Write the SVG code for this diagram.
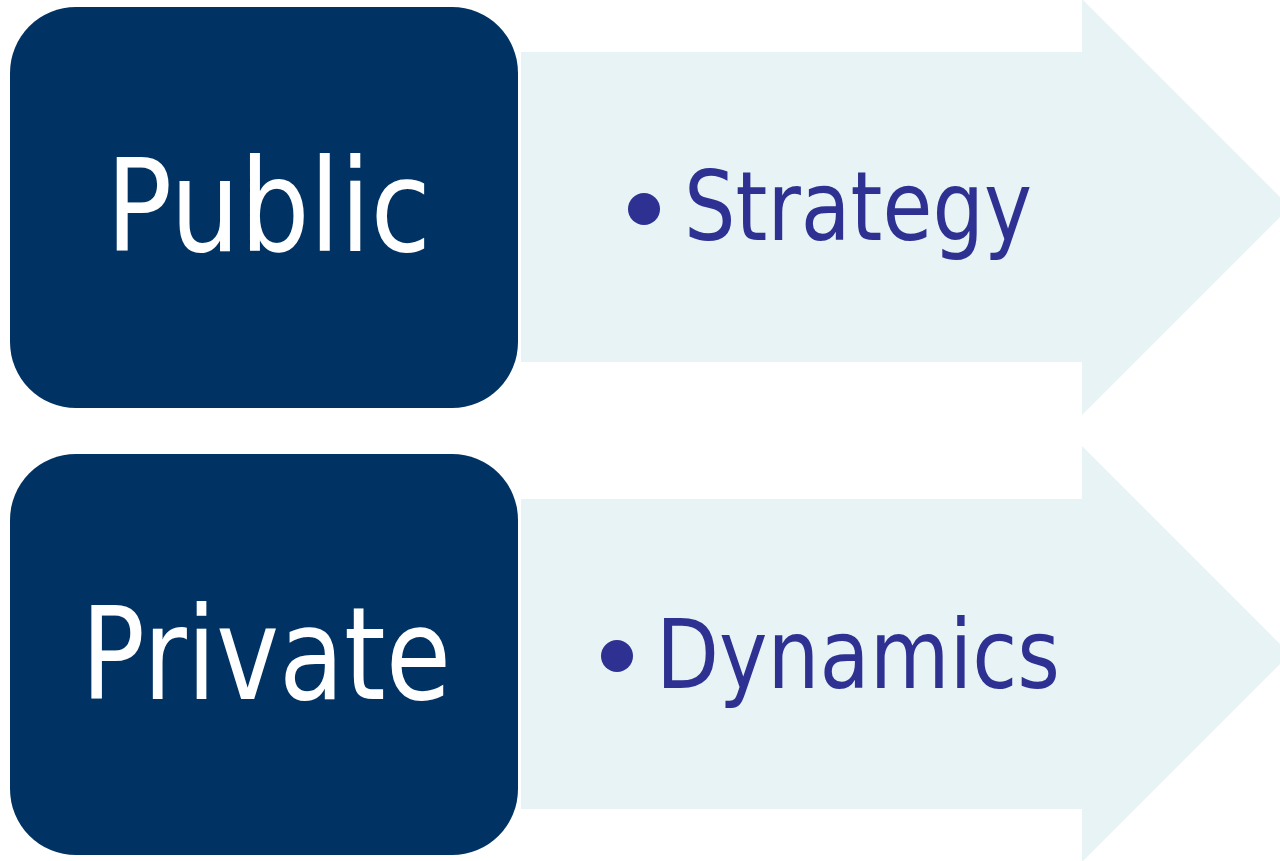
<svg xmlns="http://www.w3.org/2000/svg" width="1280" height="861" viewBox="0 0 1280 861">
<style>
.arrow{fill:#E7F3F4;}
.box{fill:#003363;}
.lbl{font-family:"DejaVu Sans","Liberation Sans",sans-serif;fill:#FFFFFF;font-size:128px;}
.item{font-family:"DejaVu Sans","Liberation Sans",sans-serif;fill:#2E3192;font-size:96px;}
.dot{fill:#2E3192;}
</style>
<rect width="1280" height="861" fill="#FFFFFF"/>
<g id="row1">
<g id="arrow1"><path class="arrow" d="M521,52 H1082 V-1 L1290,207 L1082,415 V362 H521 Z"/>
<circle class="dot" cx="644" cy="209" r="16"/>
<text class="item" x="684" y="240" textLength="348" lengthAdjust="spacingAndGlyphs">Strategy</text></g>
<g id="public"><rect class="box" x="10" y="7" width="508" height="401" rx="66" ry="66"/>
<text class="lbl" x="106" y="251" textLength="325" lengthAdjust="spacingAndGlyphs">Public</text></g>
</g>
<g id="row2">
<g id="arrow2"><path class="arrow" d="M521,499 H1082 V446 L1290,654 L1082,862 V809 H521 Z"/>
<circle class="dot" cx="617" cy="656" r="16"/>
<text class="item" x="656" y="688" textLength="404" lengthAdjust="spacingAndGlyphs">Dynamics</text></g>
<g id="private"><rect class="box" x="10" y="454" width="508" height="401" rx="66" ry="66"/>
<text class="lbl" x="81" y="699" textLength="370" lengthAdjust="spacingAndGlyphs">Private</text></g>
</g>
<g id="connectors"></g>
</svg>
